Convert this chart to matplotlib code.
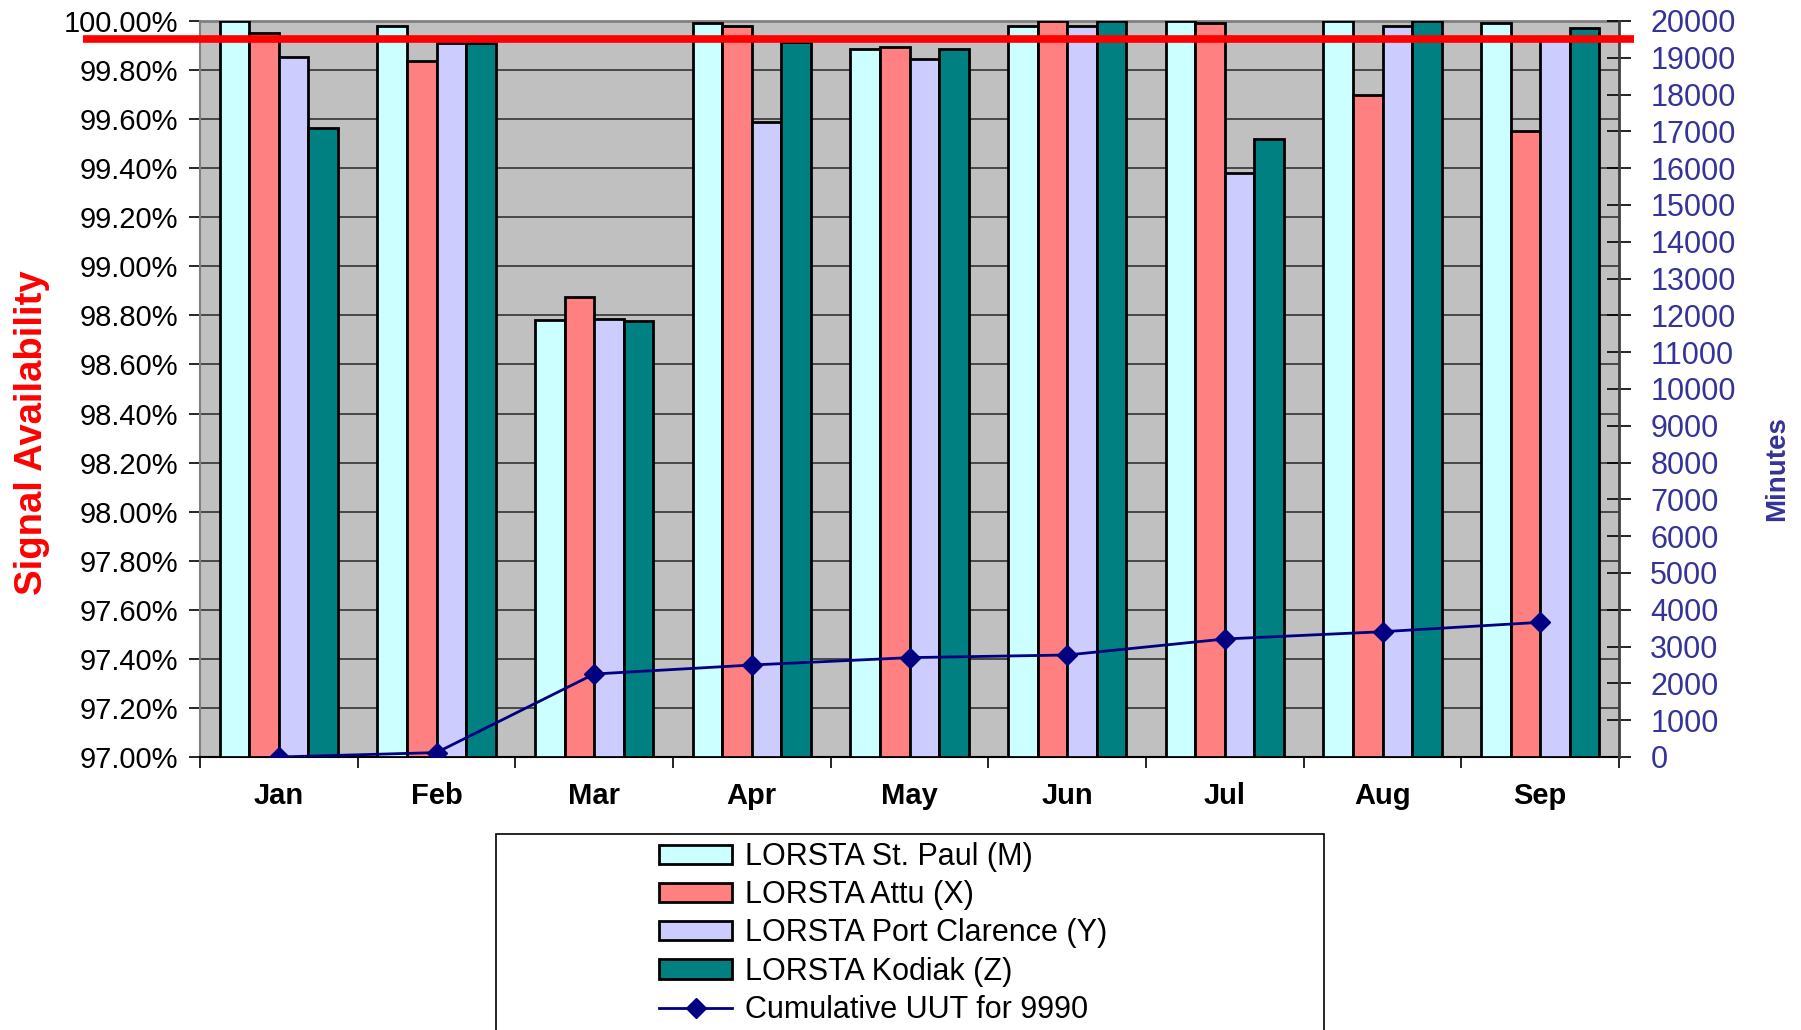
import numpy as np
from matplotlib import pyplot as plt
from matplotlib import transforms
from matplotlib.patches import Rectangle
from matplotlib.ticker import MultipleLocator, FixedLocator, FuncFormatter

plt.rcParams['font.family'] = ['Liberation Sans', 'DejaVu Sans']

# =============================================================================
# Data
# =============================================================================
months = ["Jan", "Feb", "Mar", "Apr", "May", "Jun", "Jul", "Aug", "Sep"]

st_paul = [100.00, 99.98, 98.78, 99.99, 99.885, 99.98, 100.00, 100.00, 99.99]
attu = [99.95, 99.835, 98.875, 99.98, 99.895, 100.00, 99.99, 99.70, 99.553]
port_clarence = [99.855, 99.91, 98.786, 99.589, 99.845, 99.98, 99.382, 99.98, 99.923]
kodiak = [99.565, 99.91, 98.778, 99.916, 99.885, 100.00, 99.518, 100.00, 99.971]

cumulative_uut = [0, 120, 2255, 2500, 2700, 2772, 3207, 3405, 3660]

target = 99.925

series_names = ["LORSTA St. Paul (M)", "LORSTA Attu (X)",
                "LORSTA Port Clarence (Y)", "LORSTA Kodiak (Z)"]
series_colors = ["#CCFFFF", "#FF8080", "#CCCCFF", "#008080"]
line_name = "Cumulative UUT for 9990"

# =============================================================================
# Figure
# =============================================================================
fig = plt.figure(figsize=(18.01, 10.30), dpi=100)
ax = fig.add_axes([200 / 1801, 1 - 757 / 1030, 1419 / 1801, 736 / 1030])
ax.set_facecolor("#C0C0C0")

x = np.arange(len(months))
bar_w = 0.75 / 4
handles = []
for i, (vals, name, col) in enumerate(zip([st_paul, attu, port_clarence, kodiak],
                                          series_names, series_colors)):
    offs = (i - 1.5) * bar_w
    b = ax.bar(x + offs, np.array(vals) - 97.0, bottom=97.0, width=bar_w,
               color=col, edgecolor="black", linewidth=2, label=name, zorder=3)
    handles.append(b)

ax.set_xlim(-0.5, len(months) - 0.5)
ax.set_ylim(97.0, 100.0)
ax.yaxis.set_major_locator(MultipleLocator(0.2))
ax.yaxis.set_major_formatter(FuncFormatter(lambda v, p: f"{v:.2f}%"))
ax.yaxis.grid(True, color="#333333", linewidth=1.2)
ax.set_axisbelow(True)
ax.tick_params(axis="y", direction="out", length=8, width=1.2, pad=8,
               labelsize=21, colors="black")

ax.set_xticks(x)
ax.set_xticklabels(months, fontsize=21, fontweight="bold")
ax.xaxis.set_minor_locator(FixedLocator(np.arange(-0.5, len(months), 1.0)))
ax.tick_params(axis="x", which="major", length=0, pad=18)
ax.tick_params(axis="x", which="minor", direction="out", length=8, width=1.2)

ax.spines["top"].set_color("#808080")
ax.spines["top"].set_linewidth(2)
ax.spines["left"].set_color("#808080")
ax.spines["left"].set_linewidth(1.5)
ax.spines["bottom"].set_color("black")
ax.spines["bottom"].set_linewidth(1.5)
ax.spines["right"].set_visible(False)

ax.set_ylabel("Signal Availability", color="red", fontsize=27.5, fontweight="bold")
ax.yaxis.set_label_coords(50 / 1801, 1 - 433 / 1030, transform=fig.transFigure)

# =============================================================================
# Secondary axis (minutes)
# =============================================================================
ax2 = ax.twinx()
ax2.set_ylim(0, 20000)
ax2.yaxis.set_major_locator(MultipleLocator(1000))
(ln,) = ax2.plot(x, cumulative_uut, color="#000080", linewidth=2,
                 marker="D", markersize=10, label=line_name, zorder=4)
ax2.tick_params(axis="y", direction="inout", length=17, width=1.2, pad=14,
                labelsize=22, colors="black", labelcolor="#333399")
for t in ax2.get_yticklabels():
    t.set_horizontalalignment("left")
for s in ["top", "left", "bottom"]:
    ax2.spines[s].set_visible(False)
ax2.spines["right"].set_color("#404040")
ax2.spines["right"].set_linewidth(2)
ax2.set_ylabel("Minutes", color="#333399", fontsize=20, fontweight="bold")
ax2.yaxis.set_label_coords(1764 / 1801, 1 - 469 / 1030, transform=fig.transFigure)

# target line across the plot
tr = transforms.blended_transform_factory(ax2.transAxes, ax.transData)
ax2.plot([-0.0825, 1.0106], [target, target], color="red", linewidth=5.5,
         transform=tr, clip_on=False, zorder=10, solid_capstyle="butt")

# =============================================================================
# Legend
# =============================================================================
fig.patches.append(Rectangle((496 / 1801, -0.05), 828 / 1801, 0.05 + 1 - 834 / 1030,
                             transform=fig.transFigure, facecolor="white",
                             edgecolor="black", linewidth=1.2))
fig.legend(handles + [ln], series_names + [line_name], loc="upper left",
           bbox_to_anchor=(659 / 1801, 1 - 842 / 1030), frameon=False,
           fontsize=22, borderpad=0, borderaxespad=0, labelspacing=0.27,
           handlelength=2.4, handleheight=0.6, handletextpad=0.4)

fig.savefig("out.png", dpi=100)
